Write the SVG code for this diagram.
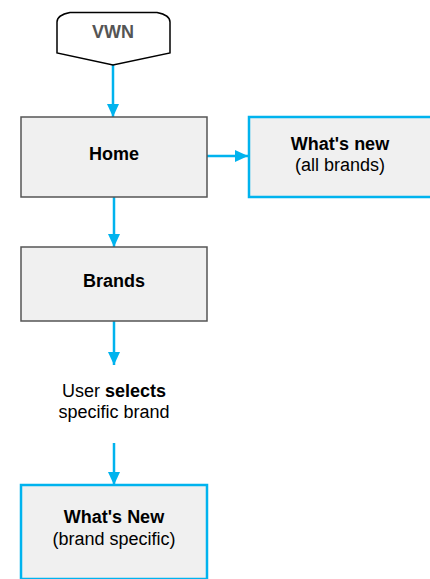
<svg xmlns="http://www.w3.org/2000/svg" width="430" height="579" viewBox="0 0 430 579">
<style>
text{font-family:"Liberation Sans",Arial,sans-serif;font-size:18px;text-anchor:middle;fill:#000}
.b{font-weight:bold}
.grey{fill:#f0f0f0;stroke:#555;stroke-width:1.5}
.cyan{fill:#f0f0f0;stroke:#00b3ee;stroke-width:2.5}
.c{stroke:#00b3ee;stroke-width:2.5;fill:none;marker-end:url(#ah)}
</style>
<defs>
<marker id="ah" markerUnits="userSpaceOnUse" markerWidth="14" markerHeight="14" viewBox="0 0 14 14" refX="13" refY="7" orient="auto">
<path d="M0,1 L13,7 L0,13 Z" fill="#00b3ee"/>
</marker>
</defs>
<rect width="430" height="579" fill="#fff"/>
<g id="connectors">
<line class="c" x1="113" y1="65" x2="113" y2="117"/>
<line class="c" x1="207" y1="156" x2="248" y2="156"/>
<line class="c" x1="114" y1="197" x2="114" y2="247"/>
<line class="c" x1="114" y1="321" x2="114" y2="365"/>
<line class="c" x1="114" y1="443" x2="114" y2="485"/>
</g>
<g id="vwn">
<path d="M57,53 L57,22 Q57,15 70,12.5 L157,12.5 Q170,15 170,22 L170,53 L113,65 Z" fill="#fff" stroke="#000" stroke-width="1.5"/>
<text class="b" x="113" y="38" style="fill:#555">VWN</text>
</g>
<g id="home">
<rect class="grey" x="21" y="117" width="186" height="80"/>
<text class="b" x="114" y="160">Home</text>
</g>
<g id="whats-new-all">
<rect class="cyan" x="249" y="117" width="184" height="80"/>
<text class="b" x="340" y="149.5">What's new</text>
<text x="340" y="171">(all brands)</text>
</g>
<g id="brands">
<rect class="grey" x="21" y="247" width="186" height="74"/>
<text class="b" x="114" y="287">Brands</text>
</g>
<g id="user-selects">
<text x="114" y="397">User <tspan class="b">selects</tspan></text>
<text x="114" y="418">specific brand</text>
</g>
<g id="whats-new-brand">
<rect class="cyan" x="21" y="485" width="186" height="94"/>
<text class="b" x="114" y="523">What's New</text>
<text x="114" y="545">(brand specific)</text>
</g>
</svg>
